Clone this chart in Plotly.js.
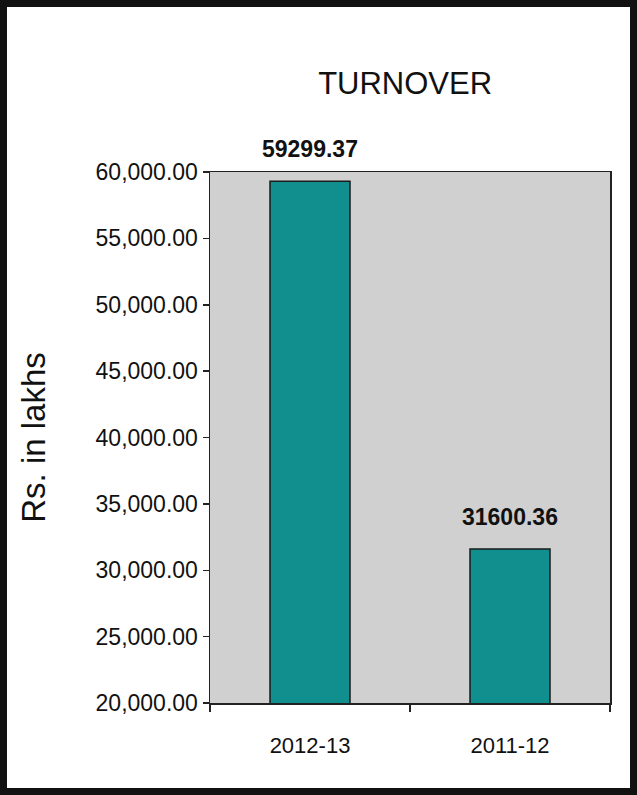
<!DOCTYPE html>
<html>
<head>
<meta charset="utf-8">
<script src="https://cdn.plot.ly/plotly-3.0.1.min.js"></script>
<style>
html,body{margin:0;padding:0;background:#fff;}
#chart{width:637px;height:795px;}
#frame{position:absolute;left:0;top:0;width:637px;height:795px;box-sizing:border-box;border:7px solid #111;pointer-events:none;}
</style>
</head>
<body>
<div id="chart"></div>
<div id="frame"></div>
<script>
const categories = ["2012-13", "2011-12"];
const turnover = [59299.37, 31600.36];
const labels = ["59299.37", "31600.36"];
const yTickStart = 20000, yTickEnd = 60000, yTickStep = 5000;

const FONT = "Liberation Sans, Arial, sans-serif";

const trace = {
  type: "bar",
  x: categories,
  y: turnover,
  marker: {color: "#118f8f", line: {color: "#1a1a1a", width: 1.5}},
  hoverinfo: "x+y"
};

const annotations = categories.map((c, i) => ({
  x: c, y: turnover[i], xref: "x", yref: "y",
  text: "<b>" + labels[i] + "</b>",
  showarrow: false, yanchor: "bottom", yshift: 17,
  font: {family: FONT, size: 23, color: "#111"}
}));

const layout = {
  width: 637, height: 795,
  margin: {l: 210, r: 27, t: 172, b: 92},
  paper_bgcolor: "#ffffff",
  plot_bgcolor: "#d0d0d0",
  showlegend: false,
  bargap: 0.6,
  title: {text: "TURNOVER", font: {family: FONT, size: 31, color: "#111"},
          x: 0.636, xanchor: "center", y: 0.895, yanchor: "middle"},
  xaxis: {
    type: "category",
    tickson: "boundaries",
    ticks: "outside", ticklen: 7, tickcolor: "#222", tickwidth: 1.5,
    showline: true, linecolor: "#222", linewidth: 1.5, mirror: true,
    showgrid: false,
    ticklabelstandoff: 22,
    tickfont: {family: FONT, size: 22, color: "#111"}
  },
  yaxis: {
    range: [yTickStart, yTickEnd],
    tick0: yTickStart, dtick: yTickStep,
    tickformat: ",.2f",
    ticks: "outside", ticklen: 6, tickcolor: "#222", tickwidth: 1.5,
    showline: true, linecolor: "#222", linewidth: 1.5, mirror: true,
    showgrid: false, zeroline: false,
    tickfont: {family: FONT, size: 23, color: "#111"},
    title: {text: "Rs. in lakhs", font: {family: FONT, size: 33, color: "#111"}, standoff: 40}
  },
  annotations: annotations
};

Plotly.newPlot("chart", [trace], layout, {displayModeBar: false, staticPlot: true});
</script>
</body>
</html>
